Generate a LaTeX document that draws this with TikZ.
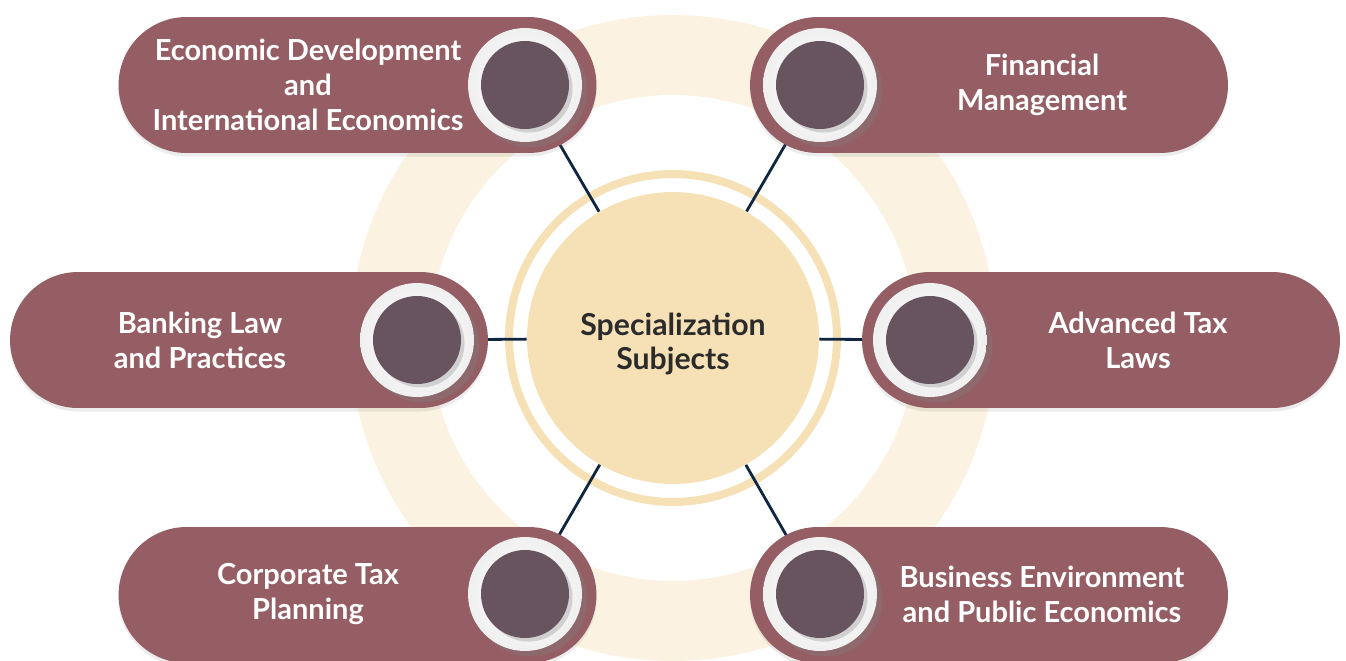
\documentclass[tikz,border=0pt]{standalone}
\usepackage{fontspec}
\setmainfont{Lato}
\usetikzlibrary{shapes.misc,shadows,backgrounds}

\definecolor{pillred}{HTML}{955E64}
\definecolor{dotgray}{HTML}{67545E}
\definecolor{hubgold}{HTML}{F6E1B7}
\definecolor{ringpale}{HTML}{FBF2E1}
\definecolor{spokeblue}{HTML}{0F2540}
\definecolor{hubtext}{HTML}{2B2B2B}

\tikzset{
  pill/.style={rounded rectangle,fill=pillred,minimum width=9.56cm,
    minimum height=2.72cm,inner sep=0pt,
    drop shadow={opacity=0.15,shadow xshift=0pt,shadow yshift=-2pt}},
  knob/.style={circle,inner color=white,outer color=black!6,
    minimum size=2.28cm,inner sep=0pt,
    drop shadow={opacity=0.35,shadow xshift=3pt,shadow yshift=-3pt}},
  dot/.style={circle,fill=dotgray,minimum size=1.76cm,inner sep=0pt,
    drop shadow={opacity=0.3,shadow xshift=2pt,shadow yshift=-2pt}},
  pilltext/.style={text=white,align=center,
    font=\bfseries\fontsize{16.5}{19.9}\selectfont},
  hub/.style={circle,fill=hubgold,minimum size=5.84cm,inner sep=0pt},
  hubtext/.style={text=hubtext,align=center,
    font=\bfseries\fontsize{17.2}{19}\selectfont},
  spoke/.style={draw=spokeblue,line width=1.6pt}
}

\begin{document}
\begin{tikzpicture}[x=0.02cm,y=-0.02cm]
\useasboundingbox (0,0) rectangle (1346,660);

% centre
\node[hub] (hub) at (673,338) {};
\node[hubtext] (title) at (673,344) {Specialization\\Subjects};

% pills
\node[pill] (p1) at (357.5,85) {};
\node[pill] (p2) at (989,85) {};
\node[pill] (p3) at (249,340) {};
\node[pill] (p4) at (1101,340) {};
\node[pill] (p5) at (357.5,595) {};
\node[pill] (p6) at (989,595) {};

% knobs
\node[knob] (k1) at (525,85) {};
\node[knob] (k2) at (820,85) {};
\node[knob] (k3) at (417,340) {};
\node[knob] (k4) at (930,340) {};
\node[knob] (k5) at (525,594) {};
\node[knob] (k6) at (820,594) {};
\node[dot] (d1) at (k1) {};
\node[dot] (d2) at (k2) {};
\node[dot] (d3) at (k3) {};
\node[dot] (d4) at (k4) {};
\node[dot] (d5) at (k5) {};
\node[dot] (d6) at (k6) {};

% labels
\node[pilltext] (t1) at (308,85) {Economic Development\\and\\International Economics};
\node[pilltext] (t2) at (1042,85) {Financial\\Management};
\node[pilltext] (t3) at (200,340) {Banking Law\\and Practices};
\node[pilltext] (t4) at (1138,340) {Advanced Tax\\Laws};
\node[pilltext] (t5) at (308,594) {Corporate Tax\\Planning};
\node[pilltext] (t6) at (1042,594) {Business Environment\\and Public Economics};

\begin{scope}[on background layer]
  \draw[ringpale,line width=1.6cm] (hub.center) circle[radius=5.66cm];
  \draw[hubgold,line width=0.16cm] (hub.center) circle[radius=3.28cm];
  \foreach \d in {d1,d2,d3,d4,d5,d6}
    \draw[spoke] (\d) -- (hub);
\end{scope}
\end{tikzpicture}
\end{document}
